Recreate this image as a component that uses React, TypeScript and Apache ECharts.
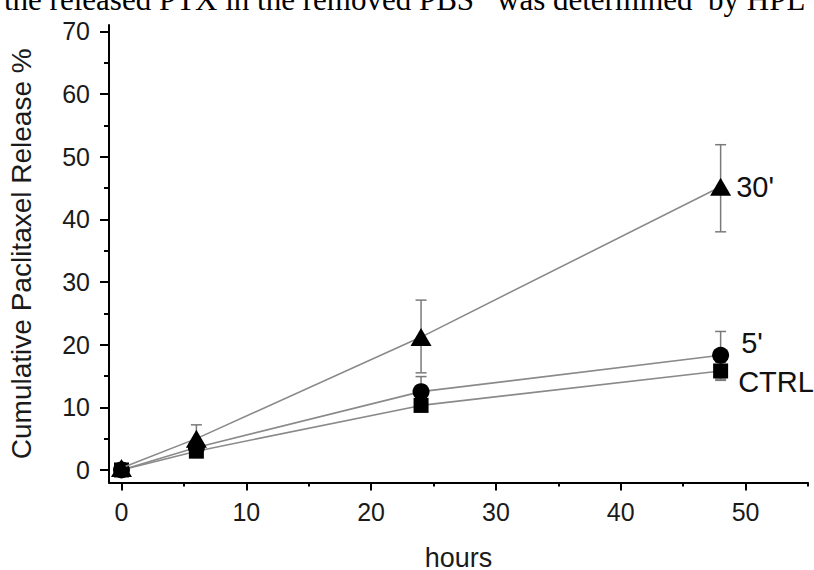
import React, { useEffect, useRef } from "react";
import * as echarts from "echarts";

// ---- data ----
const hours = [0, 6, 24, 48];
const ctrlRelease = [0, 3.0, 10.3, 15.8];
const fiveMinRelease = [0, 3.6, 12.5, 18.3];
const thirtyMinRelease = [0.3, 5.0, 21.2, 45.2];

const ctrlLow = [null, null, null, 14.3];
const ctrlHigh = [null, null, null, 17.2];
const fiveLow = [null, null, 10.5, 14.5];
const fiveHigh = [null, null, 14.9, 22.1];
const thirtyLow = [null, 3.2, 15.5, 38.0];
const thirtyHigh = [null, 7.2, 27.1, 51.9];

const xMajorTicks = [0, 10, 20, 30, 40, 50];
const xMinorTicks = [5, 15, 25, 35, 45, 55];
const yMajorTicks = [0, 10, 20, 30, 40, 50, 60, 70];
const yMinorTicks = [5, 15, 25, 35, 45, 55, 65];

const seriesNames = ["CTRL", "5'", "30'"];
const headerWords = ["the released PTX in the removed PBS", "was determined", "by HPL"];

const SANS = "Liberation Sans, Arial, sans-serif";
const SERIF = "Liberation Serif, Times New Roman, serif";

function errorData(low: (number | null)[], high: (number | null)[]) {
  const out: number[][] = [];
  hours.forEach((h, i) => {
    if (low[i] != null && high[i] != null) out.push([h, low[i] as number, high[i] as number]);
  });
  return out;
}

function pts(vals: number[]) {
  return hours.map((h, i) => [h, vals[i]]);
}

export default function App() {
  const ref = useRef<HTMLDivElement>(null);

  useEffect(() => {
    if (!ref.current) return;
    const chart = echarts.init(ref.current, undefined, { renderer: "svg" });

    const errStyle = { stroke: "#7a7a7a", lineWidth: 1.5 };
    const renderErr = (params: any, api: any) => {
      const x = api.value(0);
      const p1 = api.coord([x, api.value(1)]);
      const p2 = api.coord([x, api.value(2)]);
      const w = 5.5;
      return {
        type: "group",
        children: [
          { type: "line", shape: { x1: p1[0], y1: p1[1], x2: p2[0], y2: p2[1] }, style: errStyle },
          { type: "line", shape: { x1: p1[0] - w, y1: p1[1], x2: p1[0] + w, y2: p1[1] }, style: errStyle },
          { type: "line", shape: { x1: p2[0] - w, y1: p2[1], x2: p2[0] + w, y2: p2[1] }, style: errStyle },
        ],
      };
    };

    const lineStyle = { color: "#8a8a8a", width: 1.6 };
    const labelBase = { show: true, position: "right", fontSize: 29, color: "#111", fontFamily: SANS };

    const lastLabeled = (vals: number[], label: any) =>
      pts(vals).map((p, i) => (i === hours.length - 1 ? { value: p, label } : { value: p }));

    const axisLabelStyle = { fontSize: 25, color: "#1a1a1a", fontFamily: SANS };
    const headerStyle = { fontSize: 31, fontFamily: SERIF, fill: "#000", textVerticalAlign: "middle" };

    chart.setOption({
      animation: false,
      backgroundColor: "#ffffff",
      grid: { left: 109, right: 6, top: 25, bottom: 87.5, containLabel: false, outerBoundsMode: "none" },
      graphic: [
        { type: "text", style: { ...headerStyle, text: headerWords[0], x: 4, y: -1 } },
        { type: "text", style: { ...headerStyle, text: headerWords[1], x: 497, y: -1 } },
        { type: "text", style: { ...headerStyle, text: headerWords[2], x: 708, y: -1 } },
      ],
      xAxis: [
        {
          type: "value",
          min: -1,
          max: 55,
          name: "hours",
          nameLocation: "middle",
          nameGap: 62,
          nameTextStyle: { fontSize: 27, color: "#1a1a1a", fontFamily: SANS },
          axisLine: { show: true, onZero: false, lineStyle: { color: "#000", width: 2 } },
          axisTick: { show: true, customValues: xMajorTicks, length: 8, inside: false, lineStyle: { color: "#000", width: 2 } },
          axisLabel: { ...axisLabelStyle, customValues: xMajorTicks, margin: 17 },
          splitLine: { show: false },
        },
        {
          type: "value",
          min: -1,
          max: 55,
          position: "bottom",
          axisLine: { show: false, onZero: false },
          axisTick: { show: true, customValues: xMinorTicks, length: 4, lineStyle: { color: "#000", width: 2 } },
          axisLabel: { show: false },
          splitLine: { show: false },
        },
      ],
      yAxis: [
        {
          type: "value",
          min: -2,
          max: 71,
          name: "Cumulative Paclitaxel Release %",
          nameLocation: "middle",
          nameGap: 74,
          nameTextStyle: { fontSize: 28, color: "#1a1a1a", fontFamily: SANS },
          axisLine: { show: true, onZero: false, lineStyle: { color: "#000", width: 2 } },
          axisTick: { show: true, customValues: yMajorTicks, length: 9, lineStyle: { color: "#000", width: 2 } },
          axisLabel: { ...axisLabelStyle, customValues: yMajorTicks, margin: 19 },
          splitLine: { show: false },
        },
        {
          type: "value",
          min: -2,
          max: 71,
          position: "left",
          axisLine: { show: false, onZero: false },
          axisTick: { show: true, customValues: yMinorTicks, length: 5, lineStyle: { color: "#000", width: 2 } },
          axisLabel: { show: false },
          splitLine: { show: false },
        },
      ],
      series: [
        { type: "custom", name: "err-ctrl", renderItem: renderErr, data: errorData(ctrlLow, ctrlHigh), z: 1, silent: true },
        { type: "custom", name: "err-5", renderItem: renderErr, data: errorData(fiveLow, fiveHigh), z: 1, silent: true },
        { type: "custom", name: "err-30", renderItem: renderErr, data: errorData(thirtyLow, thirtyHigh), z: 1, silent: true },
        {
          type: "line",
          name: seriesNames[0],
          data: lastLabeled(ctrlRelease, { ...labelBase, formatter: seriesNames[0], distance: 10, offset: [0, 11] }),
          symbol: "rect",
          symbolSize: 15,
          lineStyle,
          itemStyle: { color: "#000" },
          z: 3,
        },
        {
          type: "line",
          name: seriesNames[1],
          data: lastLabeled(fiveMinRelease, { ...labelBase, formatter: seriesNames[1], distance: 12, offset: [0, -12] }),
          symbol: "circle",
          symbolSize: 17,
          lineStyle,
          itemStyle: { color: "#000" },
          z: 4,
        },
        {
          type: "line",
          name: seriesNames[2],
          data: lastLabeled(thirtyMinRelease, { ...labelBase, formatter: seriesNames[2], distance: 5, offset: [0, 0] }),
          symbol: "triangle",
          symbolSize: [21, 18],
          lineStyle,
          itemStyle: { color: "#000" },
          z: 5,
        },
      ],
    });

    return () => chart.dispose();
  }, []);

  return (
    <div
      ref={ref}
      style={{ position: "absolute", left: 0, top: 0, width: 814, height: 570, background: "#fff" }}
    />
  );
}
